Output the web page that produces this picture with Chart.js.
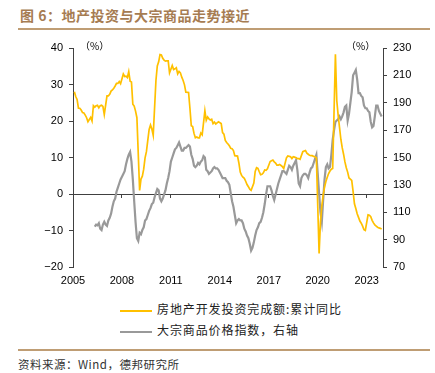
<!DOCTYPE html>
<html>
<head>
<meta charset="utf-8">
<script src="https://cdn.jsdelivr.net/npm/chart.js@4.4.0/dist/chart.umd.min.js"></script>
<style>
  body { margin: 0; width: 435px; height: 373px; background: #fff; position: relative; overflow: hidden;
         font-family: "Noto Sans CJK SC", sans-serif; }
  #wrap { position: absolute; left: 0; top: 0; width: 435px; height: 300px; }
  .title { position: absolute; left: 20px; top: 5px; font-size: 14px; font-weight: bold; color: #a67c52; letter-spacing: 0.5px; }
  .rule { position: absolute; left: 18px; width: 412px; height: 2px; background: #bf9d74; }
  .unit { position: absolute; top: 38px; font-size: 10px; color: #000; }
  .leg { position: absolute; left: 120px; font-size: 12px; color: #222; height: 16px; line-height: 16px; letter-spacing: 0.9px; }
  .leg i { display: inline-block; width: 32px; height: 2px; vertical-align: middle; margin-right: 5px; }
  .src { position: absolute; left: 18px; top: 356px; font-size: 11.5px; color: #333; letter-spacing: 0.5px; }
</style>
</head>
<body>
<div class="title">图 6：地产投资与大宗商品走势接近</div>
<div class="rule" style="top:28px"></div>
<div id="wrap"><canvas id="chart" width="435" height="300"></canvas></div>
<div class="unit" style="left:80px">（%）</div>
<div class="unit" style="left:346px">（%）</div>
<div class="leg" style="top:301px"><i style="background:#FFC000"></i>房地产开发投资完成额:累计同比</div>
<div class="leg" style="top:322px"><i style="background:#999999"></i>大宗商品价格指数，右轴</div>
<div class="rule" style="top:349px"></div>
<div class="src">资料来源：Wind，德邦研究所</div>

<script>
var tickYears = [2005, 2008, 2011, 2014, 2017, 2020, 2023];

// 房地产开发投资完成额 累计同比 (%), Feb-Dec of each year from 2005
var investStartYear = 2005;
var investYoY = [
  28.0, 26.7, 25.9, 23.5, 23.5, 23.0, 22.3, 22.2, 21.6, 20.9, 19.8,
  21.0, 20.0, 24.2, 23.8, 24.2, 24.3, 23.6, 24.2, 24.3, 24.0, 21.8,
  26.9, 26.9, 27.3, 28.2, 28.5, 29.0, 29.6, 30.3, 30.3, 30.8, 30.2,
  32.9, 32.2, 32.3, 31.9, 33.5, 30.9, 30.7, 24.6, 24.1, 22.7, 20.9,
  1.0, 4.1, 4.9, 6.8, 9.9, 11.6, 14.7, 17.7, 18.9, 17.8, 16.1,
  31.1, 35.1, 36.2, 38.2, 38.1, 37.2, 36.7, 36.4, 36.5, 36.5, 33.2,
  35.2, 34.1, 34.3, 34.6, 32.9, 33.6, 33.2, 32.0, 31.1, 29.9, 27.9,
  27.8, 23.5, 18.7, 18.5, 16.6, 15.4, 15.6, 15.4, 15.4, 16.7, 16.2,
  22.8, 20.2, 21.1, 20.6, 20.3, 20.5, 19.3, 19.7, 19.2, 19.5, 19.8,
  19.3, 16.8, 16.4, 14.7, 14.1, 13.7, 13.2, 12.5, 12.4, 11.9, 10.5,
  10.4, 8.5, 6.0, 5.1, 4.6, 4.3, 3.5, 2.6, 2.0, 1.3, 1.0,
  3.0, 6.2, 7.2, 7.0, 6.1, 5.3, 5.4, 5.8, 6.6, 6.5, 6.9,
  8.9, 9.1, 9.3, 8.8, 8.5, 7.9, 7.9, 8.1, 7.8, 7.5, 7.0,
  9.9, 10.4, 10.3, 10.2, 9.7, 10.2, 10.1, 9.9, 9.7, 9.7, 9.5,
  11.6, 11.8, 11.9, 11.2, 10.9, 10.6, 10.5, 10.5, 10.3, 10.2, 9.9,
  -16.3, -7.7, -3.3, -0.3, 1.9, 3.4, 4.6, 5.6, 6.3, 6.8, 7.0,
  38.3, 25.6, 21.6, 18.3, 15.0, 12.7, 10.9, 8.8, 7.2, 6.0, 4.4,
  3.7, 0.7, -2.7, -4.0, -5.4, -6.4, -7.4, -8.0, -8.8, -9.8, -10.0,
  -5.7, -5.8, -6.2, -7.2, -7.9, -8.5, -8.8, -9.1, -9.3, -9.4, -9.6
];

// 大宗商品价格指数 (right axis), monthly from 2006-05
var commodityStart = [2006, 5];
var commodityIndex = [
  99.5, 101, 100.5, 102, 98, 97, 101, 103,
  101, 100, 104, 106, 109, 114, 118, 120, 125, 128, 131, 134,
  136, 138, 140, 145, 149, 152, 154, 147, 134, 118, 103, 91,
  89, 95, 94, 97, 99, 104, 105, 108, 111, 113, 116, 117,
  121, 124, 127, 126, 120, 118, 120, 123, 126, 131, 135, 140,
  147, 150, 153, 156, 157, 159, 161, 158, 155, 155, 157, 157,
  158, 159, 158, 152, 149, 144, 143, 144, 146, 145, 147, 148,
  151, 150, 141, 140, 138, 139, 140, 142, 143, 142, 142, 141,
  139, 137, 135, 135, 135, 133, 132, 130, 124, 118, 114, 108,
  102, 104, 105, 104, 104, 102, 98, 96, 93, 91, 87, 82,
  84, 88, 93, 97, 99, 102, 103, 106, 110, 116, 123, 129,
  129, 129, 126, 122, 119, 123, 127, 131, 134, 137, 140, 140,
  139, 138, 141, 144, 143, 141, 144, 146, 148, 141, 131, 129,
  135, 137, 138, 138, 137, 135, 139, 142, 143, 146, 149, 152,
  138, 124, 110, 103, 119, 134, 143, 145, 142, 143, 152, 163,
  170, 176, 177, 178, 180, 178, 180, 183, 187, 188, 177, 182,
  190, 198, 210, 212, 214, 207, 197, 197, 195, 194, 188, 186,
  186, 184, 183, 176, 172, 173, 180, 188, 188, 184, 182, 180
];

// Wind has no January print for the cumulative series: Feb..Dec
var investPts = [];
for (let i = 0; i < investYoY.length; i++) {
  let yr = investStartYear + Math.floor(i / 11);
  let m = 2 + (i % 11);
  investPts.push({x: yr + (m - 1) / 12, y: investYoY[i]});
}
var commodityPts = [];
for (let i = 0; i < commodityIndex.length; i++) {
  let k = commodityStart[1] - 1 + i;
  commodityPts.push({x: commodityStart[0] + Math.floor(k / 12) + (k % 12) / 12, y: commodityIndex[i]});
}

var axisColor = '#404040';
var tickFont = {family: 'Liberation Sans', size: 11};
function setYearTicks(s) { s.ticks = tickYears.map(function (v) { return {value: v}; }); }

var ctx = document.getElementById('chart').getContext('2d');
var chart = new Chart(ctx, {
  type: 'line',
  data: {
    datasets: [
      {
        label: '房地产开发投资完成额:累计同比',
        data: investPts,
        borderColor: '#FFC000',
        borderWidth: 1.7,
        pointRadius: 0,
        yAxisID: 'y'
      }, {
        label: '大宗商品价格指数，右轴',
        data: commodityPts,
        borderColor: '#999999',
        borderWidth: 2.2,
        pointRadius: 0,
        yAxisID: 'y1'
      }]
  },
  options: {
    responsive: false,
    animation: false,
    layout: {padding: {top: 48, bottom: 13, left: 0, right: 0}},
    plugins: {legend: {display: false}, tooltip: {enabled: false}},
    scales: {
      x: {
        type: 'linear', min: 2005, max: 2024,
        afterBuildTicks: setYearTicks,
        grid: {display: false, drawTicks: false, tickLength: 0},
        border: {display: false},
        ticks: {autoSkip: false, maxRotation: 0, padding: 7, color: '#000', font: tickFont,
                callback: function (v) { return String(v); }},
        afterFit: function (s) { s.height = 20; }
      },
      xZero: {
        type: 'linear', min: 2005, max: 2024,
        position: {y: 0},
        afterBuildTicks: setYearTicks,
        grid: {drawOnChartArea: false, tickLength: 3, color: axisColor},
        border: {color: axisColor, width: 1},
        ticks: {display: false}
      },
      y: {
        position: 'left', min: -20, max: 40,
        ticks: {stepSize: 10, padding: 6, color: '#000', font: tickFont,
                callback: function (v) { return String(v).replace('-', '\u2212'); }},
        grid: {drawOnChartArea: false, tickLength: 4, color: axisColor},
        border: {color: axisColor},
        afterFit: function (s) { s.width = 73; }
      },
      y1: {
        position: 'right', min: 70, max: 230,
        ticks: {stepSize: 20, padding: 6, color: '#000', font: tickFont},
        grid: {drawOnChartArea: false, tickLength: 4, color: axisColor},
        border: {color: axisColor},
        afterFit: function (s) { s.width = 52; }
      }
    }
  }
});
</script>
</body>
</html>
